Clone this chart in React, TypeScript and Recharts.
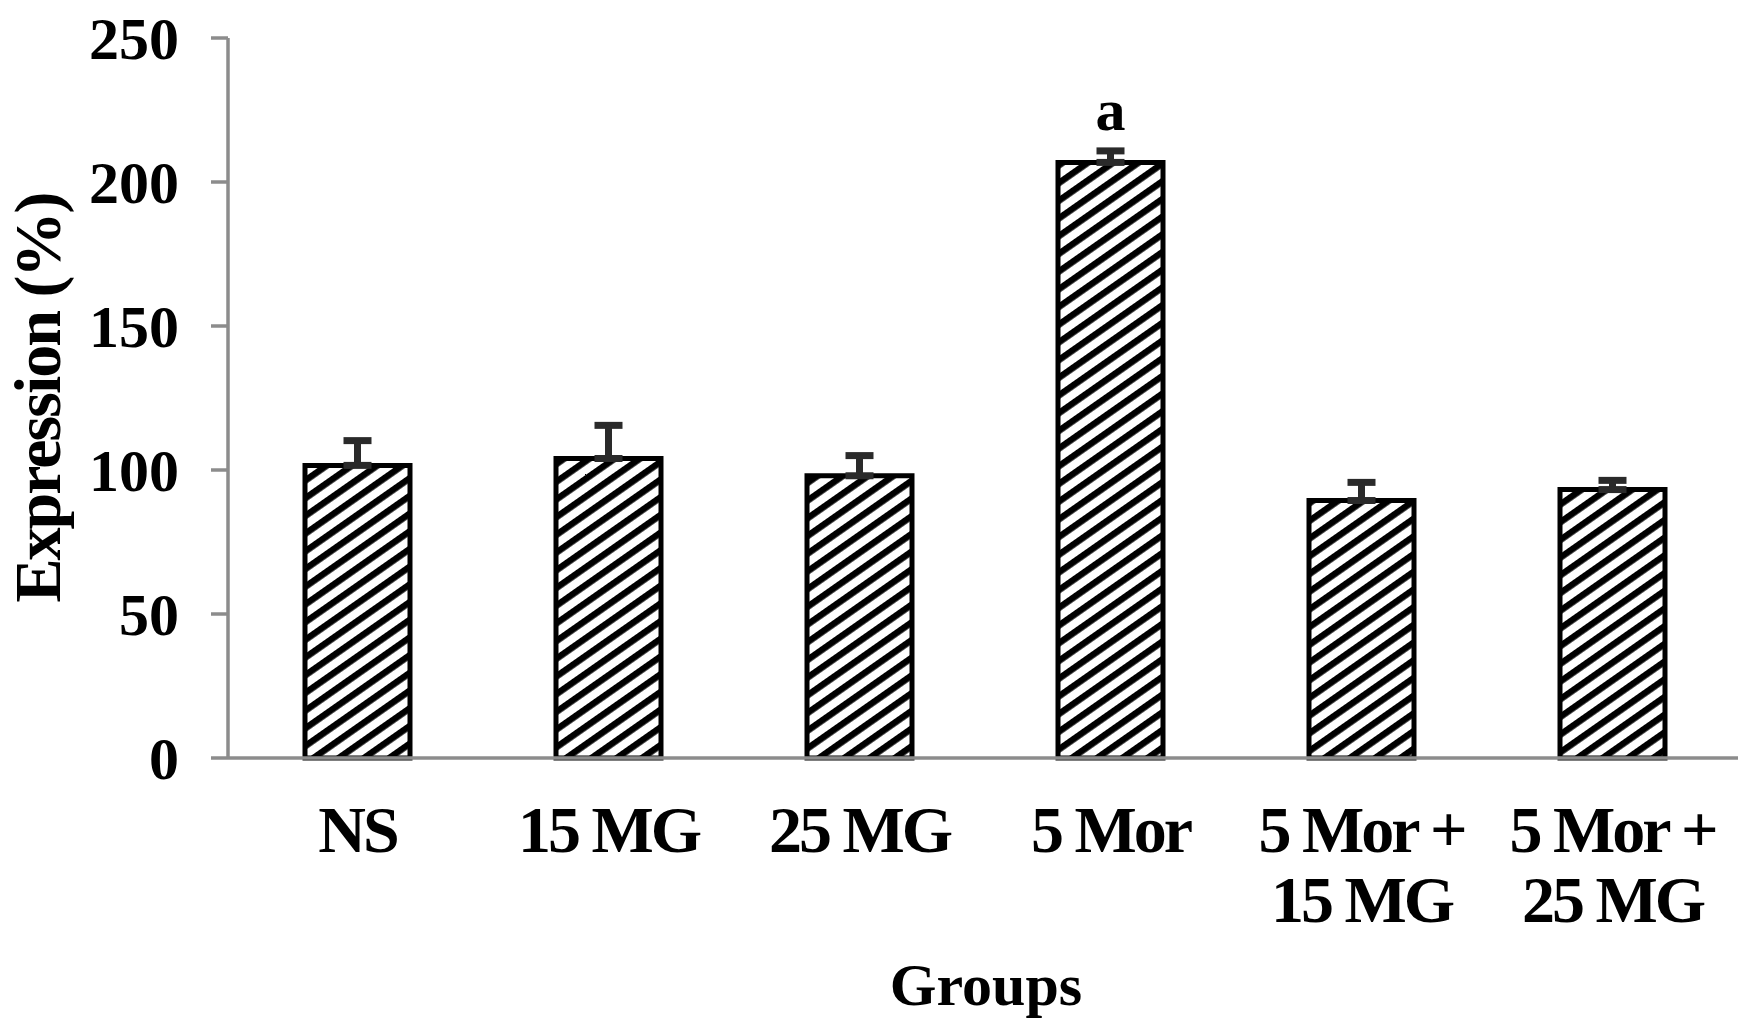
import React from 'react';
import { BarChart, Bar, XAxis, YAxis, ErrorBar, LabelList } from 'recharts';

const groups = ['NS', '15 MG', '25 MG', '5 Mor', '5 Mor + 15 MG', '5 Mor + 25 MG'];
const groupLines = [['NS'], ['15 MG'], ['25 MG'], ['5 Mor'], ['5 Mor +', '15 MG'], ['5 Mor +', '25 MG']];
const expression = [101.6, 104.0, 98.0, 206.8, 89.4, 93.2];
const sem = [8.6, 11.5, 7.0, 4.0, 6.3, 3.2];
const marks = ['', '', '', 'a', '', ''];
const yTicks = [0, 50, 100, 150, 200, 250];

const data = groups.map((g, i) => ({
  group: g,
  value: expression[i],
  err: [0, sem[i]], // plus-only error bars, like the original
  mark: marks[i],
}));

const FONT = '"Liberation Serif", "Times New Roman", serif';
const AXIS_GREY = '#8c8c8c';

const GroupTick = (props: any) => {
  const { x, y, payload } = props;
  const lines = groupLines[groups.indexOf(payload.value)] || [payload.value];
  return (
    <g>
      {lines.map((line, i) => (
        <text
          key={i}
          x={x}
          y={y + 94 + i * 70}
          textAnchor="middle"
          fontFamily={FONT}
          fontWeight="bold"
          fontSize={66}
          letterSpacing={-3}
          fill="#000"
        >
          {line}
        </text>
      ))}
    </g>
  );
};

const YTitle = (props: any) => {
  const { x, y, height } = props.viewBox;
  const cx = x + 60;
  const cy = y + height / 2;
  return (
    <text
      x={cx}
      y={cy}
      transform={`rotate(-90, ${cx}, ${cy})`}
      textAnchor="middle"
      fontFamily={FONT}
      fontWeight="bold"
      fontSize={66}
      letterSpacing={-2}
      fill="#000"
    >
      Expression (%)
    </text>
  );
};

const XTitle = (props: any) => {
  const { x, y, width } = props.viewBox;
  return (
    <text
      x={x + width / 2 + 3}
      y={y + 247}
      textAnchor="middle"
      fontFamily={FONT}
      fontWeight="bold"
      fontSize={60}
      fill="#000"
    >
      Groups
    </text>
  );
};

export default function App() {
  return (
    <div style={{ position: 'absolute', left: 0, top: 0, width: 1750, height: 1035, background: '#fff' }}>
      <BarChart
        width={1750}
        height={1035}
        data={data}
        margin={{ top: 38, right: 12, left: 0, bottom: 0 }}
      >
        <defs>
          <pattern
            id="hatch"
            patternUnits="userSpaceOnUse"
            width={14.5}
            height={14.5}
            patternTransform="rotate(-35)"
          >
            <rect width={14.5} height={14.5} fill="#fff" />
            <rect width={14.5} height={6.5} fill="#000" />
          </pattern>
        </defs>
        <XAxis
          dataKey="group"
          height={277}
          padding={{ left: 4, right: 0 }}
          tickSize={0}
          tickMargin={0}
          tickLine={false}
          axisLine={{ stroke: AXIS_GREY, strokeWidth: 3.5 }}
          tick={<GroupTick />}
          interval={0}
          label={<XTitle />}
        />
        <YAxis
          width={228}
          domain={[0, 250]}
          ticks={yTicks}
          interval={0}
          tickSize={17}
          tickMargin={32}
          axisLine={{ stroke: AXIS_GREY, strokeWidth: 3.5 }}
          tickLine={{ stroke: AXIS_GREY, strokeWidth: 3.5 }}
          tick={{ fontFamily: FONT, fontWeight: 'bold', fontSize: 60, fill: '#000' }}
          label={<YTitle />}
        />
        <Bar
          dataKey="value"
          barSize={105}
          fill="url(#hatch)"
          stroke="#000"
          strokeWidth={5}
          isAnimationActive={false}
        >
          <ErrorBar dataKey="err" direction="y" width={14} strokeWidth={7} stroke="#2a2a2a" />
          <LabelList
            dataKey="mark"
            position="top"
            offset={32}
            fontFamily={FONT}
            fontWeight="bold"
            fontSize={60}
            fill="#000"
          />
        </Bar>
      </BarChart>
    </div>
  );
}
